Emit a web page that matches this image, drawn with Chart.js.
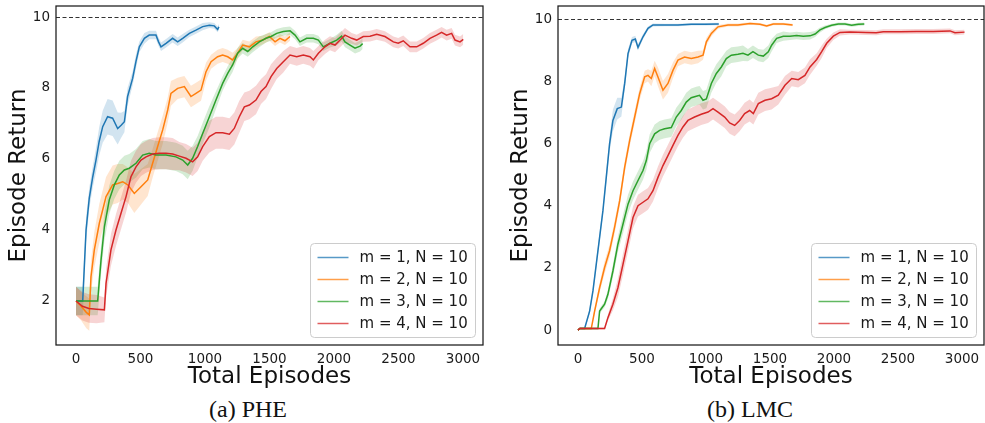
<!DOCTYPE html>
<html>
<head>
<meta charset="utf-8">
<script src="https://cdn.jsdelivr.net/npm/chart.js@4.4.1/dist/chart.umd.min.js"></script>
<style>
  html, body { margin: 0; padding: 0; background: #fff; }
  #wrap { position: relative; width: 985px; height: 423px; overflow: hidden; }
  .panel { position: absolute; top: 0; }
  .caption {
    position: absolute; top: 397px; width: 200px; text-align: center;
    font-family: 'Liberation Serif', 'DejaVu Serif', serif; font-size: 24px; line-height: 24px; color: #111;
  }
</style>
</head>
<body>
<div id="wrap">
  <div class="panel" style="left:0"><canvas id="pheChart" width="490" height="395"></canvas></div>
  <div class="panel" style="left:502px"><canvas id="lmcChart" width="483" height="395"></canvas></div>
  <div class="caption" style="left:148px">(a) PHE</div>
  <div class="caption" style="left:650px">(b) LMC</div>
</div>
<script>
const seriesLabels = ['m = 1, N = 10', 'm = 2, N = 10', 'm = 3, N = 10', 'm = 4, N = 10'];
const seriesColors = ['#1f77b4', '#ff7f0e', '#2ca02c', '#d62728'];
const episodeTicks = [0, 500, 1000, 1500, 2000, 2500, 3000];
const pheReturnTicks = [2, 4, 6, 8, 10];
const lmcReturnTicks = [0, 2, 4, 6, 8, 10];
const targetReturn = 10;

// rows: [total episodes, mean return, std of return]
const phe_m1 = [
  [0, 2.0, 0.4], [52, 2.0, 0.4], [78, 4.0, 0.35], [103, 4.9, 0.3], [130, 5.5, 0.3], [155, 5.97, 0.35],
  [180, 6.5, 0.4], [207, 6.91, 0.45], [245, 7.19, 0.5], [284, 7.15, 0.5], [323, 6.86, 0.45], [350, 6.95, 0.35],
  [375, 7.05, 0.3], [400, 7.76, 0.25], [439, 8.27, 0.2], [465, 8.75, 0.2], [491, 9.16, 0.15], [530, 9.40, 0.15],
  [568, 9.49, 0.12], [620, 9.49, 0.12], [640, 9.3, 0.12], [659, 9.16, 0.12], [698, 9.26, 0.12], [749, 9.40, 0.12],
  [788, 9.30, 0.12], [827, 9.40, 0.12], [879, 9.54, 0.1], [930, 9.63, 0.1], [982, 9.73, 0.1], [1034, 9.77, 0.08],
  [1072, 9.75, 0.08], [1098, 9.65, 0.08], [1108, 9.72, 0.08]
];
const phe_m2 = [
  [0, 2.0, 0.4], [40, 1.85, 0.4], [80, 1.68, 0.45], [103, 1.61, 0.45], [116, 2.68, 0.45], [142, 3.44, 0.5],
  [181, 4.19, 0.55], [233, 4.94, 0.55], [284, 5.27, 0.55], [323, 5.31, 0.55], [362, 5.36, 0.5], [401, 5.27, 0.5],
  [452, 5.03, 0.55], [504, 5.22, 0.5], [556, 5.41, 0.45], [594, 5.88, 0.4], [633, 6.35, 0.4], [672, 6.82, 0.4],
  [711, 7.38, 0.35], [736, 7.85, 0.35], [788, 7.99, 0.3], [840, 8.04, 0.3], [891, 7.76, 0.3], [930, 7.85, 0.3],
  [969, 7.94, 0.3], [1008, 8.46, 0.25], [1047, 8.74, 0.2], [1098, 8.88, 0.2], [1137, 8.93, 0.2], [1176, 8.88, 0.2],
  [1214, 8.79, 0.2], [1253, 8.98, 0.15], [1292, 9.21, 0.15], [1344, 9.16, 0.15], [1395, 9.30, 0.15], [1447, 9.35, 0.12],
  [1499, 9.45, 0.12], [1543, 9.30, 0.12], [1581, 9.40, 0.12], [1620, 9.33, 0.12], [1659, 9.45, 0.12]
];
const phe_m3 = [
  [0, 2.0, 0.4], [168, 2.0, 0.4], [194, 3.15, 0.4], [220, 4.09, 0.4], [258, 4.85, 0.4], [297, 5.27, 0.4],
  [336, 5.55, 0.4], [375, 5.69, 0.4], [413, 5.74, 0.4], [465, 5.88, 0.4], [517, 6.11, 0.4], [568, 6.16, 0.4],
  [620, 6.11, 0.4], [698, 6.11, 0.4], [775, 6.06, 0.4], [827, 5.97, 0.4], [866, 5.83, 0.4], [904, 6.02, 0.35],
  [943, 6.35, 0.3], [982, 6.72, 0.3], [1034, 7.19, 0.3], [1085, 7.66, 0.25], [1137, 8.13, 0.2], [1176, 8.41, 0.2],
  [1214, 8.65, 0.2], [1253, 8.98, 0.15], [1292, 9.12, 0.15], [1331, 9.03, 0.15], [1370, 9.16, 0.15], [1421, 9.30, 0.15],
  [1473, 9.40, 0.12], [1512, 9.45, 0.12], [1556, 9.54, 0.12], [1607, 9.59, 0.12], [1659, 9.61, 0.12], [1698, 9.49, 0.12],
  [1736, 9.30, 0.12], [1788, 9.40, 0.12], [1840, 9.40, 0.12], [1879, 9.35, 0.12], [1917, 9.16, 0.12], [1969, 9.26, 0.12],
  [2021, 9.35, 0.15], [2059, 9.46, 0.15], [2085, 9.30, 0.15], [2124, 9.21, 0.15], [2163, 9.12, 0.15], [2202, 9.18, 0.15],
  [2222, 9.25, 0.15]
];
const phe_m4 = [
  [0, 2.0, 0.4], [50, 1.85, 0.4], [100, 1.79, 0.4], [160, 1.77, 0.4], [220, 1.75, 0.35], [233, 2.5, 0.4],
  [271, 3.44, 0.45], [310, 4.0, 0.45], [349, 4.47, 0.45], [388, 4.94, 0.45], [426, 5.5, 0.45], [465, 5.78, 0.45],
  [504, 5.97, 0.45], [543, 6.06, 0.45], [594, 6.14, 0.45], [646, 6.16, 0.45], [698, 6.16, 0.45], [749, 6.14, 0.45],
  [801, 6.08, 0.4], [853, 6.02, 0.4], [904, 5.92, 0.4], [943, 6.06, 0.4], [982, 6.35, 0.4], [1034, 6.63, 0.45],
  [1085, 6.74, 0.45], [1137, 6.74, 0.45], [1189, 6.70, 0.45], [1227, 6.86, 0.45], [1266, 7.19, 0.45], [1305, 7.47, 0.4],
  [1344, 7.52, 0.4], [1395, 7.66, 0.4], [1434, 7.90, 0.35], [1473, 8.04, 0.35], [1512, 8.32, 0.35], [1556, 8.55, 0.3],
  [1607, 8.74, 0.3], [1659, 8.93, 0.25], [1711, 8.88, 0.25], [1762, 8.93, 0.25], [1814, 8.88, 0.25], [1840, 8.79, 0.25],
  [1879, 8.98, 0.2], [1930, 9.16, 0.2], [1969, 9.26, 0.2], [2008, 9.21, 0.2], [2047, 9.35, 0.2], [2085, 9.49, 0.2],
  [2137, 9.40, 0.15], [2176, 9.35, 0.15], [2227, 9.45, 0.15], [2279, 9.46, 0.15], [2331, 9.51, 0.15], [2395, 9.45, 0.15],
  [2460, 9.30, 0.15], [2498, 9.26, 0.15], [2537, 9.33, 0.15], [2589, 9.16, 0.15], [2641, 9.16, 0.15], [2692, 9.26, 0.15],
  [2744, 9.40, 0.15], [2795, 9.49, 0.15], [2834, 9.57, 0.15], [2873, 9.49, 0.15], [2912, 9.54, 0.15], [2938, 9.35, 0.15],
  [2977, 9.30, 0.15], [3002, 9.37, 0.15]
];

const lmc_m1 = [
  [0, 0.0, 0.03], [15, 0.05, 0.03], [52, 0.05, 0.03], [91, 0.61, 0.1], [117, 1.26, 0.12], [143, 2.12, 0.15],
  [169, 2.98, 0.15], [195, 3.84, 0.15], [221, 4.91, 0.2], [247, 5.99, 0.25], [273, 6.74, 0.35], [307, 7.12, 0.35],
  [339, 7.17, 0.3], [365, 7.93, 0.2], [391, 8.89, 0.15], [422, 9.32, 0.1], [448, 9.36, 0.1], [469, 9.09, 0.1],
  [508, 9.43, 0.08], [547, 9.70, 0.06], [586, 9.81, 0.05], [677, 9.81, 0.04], [781, 9.81, 0.04], [885, 9.83, 0.04],
  [990, 9.83, 0.04], [1100, 9.84, 0.04]
];
const lmc_m2 = [
  [0, 0.0, 0.03], [15, 0.05, 0.03], [104, 0.05, 0.03], [130, 0.61, 0.1], [169, 1.36, 0.15], [208, 2.01, 0.2],
  [247, 2.55, 0.2], [286, 3.30, 0.2], [326, 4.16, 0.2], [365, 5.24, 0.2], [404, 6.10, 0.2], [443, 6.85, 0.2],
  [482, 7.60, 0.2], [521, 8.14, 0.2], [547, 8.19, 0.2], [573, 8.09, 0.25], [599, 8.41, 0.25], [625, 8.14, 0.3],
  [664, 7.71, 0.3], [703, 7.93, 0.3], [742, 8.35, 0.25], [781, 8.68, 0.2], [833, 8.78, 0.2], [885, 8.73, 0.2],
  [938, 8.78, 0.2], [977, 8.84, 0.15], [1003, 9.27, 0.12], [1042, 9.54, 0.1], [1094, 9.75, 0.06], [1172, 9.81, 0.05],
  [1250, 9.81, 0.05], [1344, 9.86, 0.04], [1422, 9.83, 0.04], [1474, 9.78, 0.04], [1526, 9.84, 0.04], [1604, 9.84, 0.04],
  [1677, 9.81, 0.04]
];
const lmc_m3 = [
  [0, 0.0, 0.03], [15, 0.05, 0.03], [156, 0.05, 0.03], [169, 0.61, 0.08], [208, 0.83, 0.1], [234, 1.15, 0.15],
  [273, 1.90, 0.2], [312, 2.76, 0.25], [352, 3.41, 0.3], [391, 4.05, 0.3], [430, 4.48, 0.3], [469, 4.81, 0.3],
  [508, 5.13, 0.3], [534, 5.45, 0.3], [560, 5.99, 0.3], [599, 6.31, 0.3], [638, 6.42, 0.3], [677, 6.47, 0.3],
  [729, 6.51, 0.3], [768, 6.85, 0.3], [807, 7.06, 0.3], [846, 7.33, 0.3], [885, 7.47, 0.3], [924, 7.52, 0.3],
  [950, 7.55, 0.3], [977, 7.39, 0.3], [1003, 7.43, 0.3], [1042, 7.93, 0.3], [1081, 8.25, 0.3], [1120, 8.46, 0.3],
  [1159, 8.73, 0.25], [1198, 8.84, 0.25], [1250, 8.87, 0.25], [1289, 8.90, 0.25], [1328, 8.84, 0.2], [1367, 8.95, 0.2],
  [1409, 8.84, 0.2], [1448, 8.81, 0.2], [1487, 8.95, 0.2], [1513, 9.16, 0.2], [1552, 9.38, 0.15], [1604, 9.45, 0.15],
  [1656, 9.45, 0.12], [1708, 9.47, 0.12], [1760, 9.45, 0.12], [1813, 9.46, 0.12], [1852, 9.52, 0.1], [1891, 9.65, 0.08],
  [1930, 9.73, 0.06], [1982, 9.80, 0.05], [2034, 9.84, 0.05], [2086, 9.84, 0.05], [2138, 9.80, 0.05], [2190, 9.83, 0.05],
  [2237, 9.84, 0.05]
];
const lmc_m4 = [
  [0, 0.0, 0.03], [15, 0.05, 0.03], [208, 0.05, 0.03], [234, 0.40, 0.1], [273, 0.83, 0.2], [312, 1.36, 0.3],
  [352, 2.12, 0.35], [391, 2.87, 0.35], [430, 3.62, 0.35], [469, 4.0, 0.35], [508, 4.11, 0.35], [547, 4.22, 0.35],
  [586, 4.48, 0.35], [625, 4.91, 0.35], [664, 5.29, 0.35], [703, 5.61, 0.35], [742, 5.94, 0.35], [781, 6.26, 0.35],
  [820, 6.53, 0.35], [859, 6.74, 0.35], [911, 6.85, 0.35], [963, 6.94, 0.35], [1016, 7.01, 0.35], [1055, 7.12, 0.35],
  [1094, 7.01, 0.35], [1146, 6.85, 0.35], [1185, 6.66, 0.35], [1224, 6.58, 0.35], [1263, 6.74, 0.35], [1302, 6.96, 0.35],
  [1341, 7.06, 0.35], [1370, 6.96, 0.35], [1409, 7.28, 0.35], [1461, 7.39, 0.35], [1513, 7.44, 0.35], [1565, 7.55, 0.3],
  [1617, 7.87, 0.3], [1670, 8.09, 0.25], [1721, 8.05, 0.25], [1773, 8.19, 0.25], [1813, 8.46, 0.25], [1865, 8.70, 0.2],
  [1904, 8.95, 0.2], [1943, 9.22, 0.15], [1995, 9.45, 0.12], [2047, 9.57, 0.1], [2125, 9.58, 0.08], [2250, 9.57, 0.08],
  [2330, 9.56, 0.08], [2385, 9.59, 0.08], [2516, 9.59, 0.08], [2646, 9.60, 0.08], [2776, 9.60, 0.08], [2906, 9.62, 0.08],
  [2945, 9.56, 0.08], [3020, 9.58, 0.08]
];

const FONT = "'DejaVu Sans', 'Liberation Sans', sans-serif";

function hexToRgba(hex, a) {
    const n = parseInt(hex.slice(1), 16);
    return `rgba(${(n >> 16) & 255}, ${(n >> 8) & 255}, ${n & 255}, ${a})`;
}

function buildDatasets(runs) {
    const bands = [];
    const lines = [];
    runs.forEach((run, i) => {
        const color = seriesColors[i];
        // upper edge, then lower edge filled back to it
        bands.push({
            data: run.map(r => ({ x: r[0], y: r[1] + r[2] })),
            borderColor: 'transparent', borderWidth: 0, pointRadius: 0, fill: false, order: 24 - i
        });
        bands.push({
            data: run.map(r => ({ x: r[0], y: r[1] - r[2] })),
            borderColor: 'transparent', borderWidth: 0, pointRadius: 0,
            fill: '-1', backgroundColor: hexToRgba(color, 0.2), order: 24 - i
        });
        lines.push({
            label: seriesLabels[i],
            data: run.map(r => ({ x: r[0], y: r[1] })),
            borderColor: color, borderWidth: 1.5, pointRadius: 0, fill: false,
            order: 4 - i, isMain: true
        });
    });
    return bands.concat(lines);
}

// dashed target line and the four spines
const framePlugin = {
    id: 'frame',
    beforeDatasetsDraw(chart) {
        const { ctx, chartArea, scales } = chart;
        const y = scales.y.getPixelForValue(targetReturn);
        ctx.save();
        ctx.strokeStyle = 'rgba(0,0,0,0.8)';
        ctx.lineWidth = 1;
        ctx.setLineDash([4, 2.5]);
        ctx.beginPath();
        ctx.moveTo(chartArea.left, Math.round(y) + 0.5);
        ctx.lineTo(chartArea.right, Math.round(y) + 0.5);
        ctx.stroke();
        ctx.restore();
    },
    afterDatasetsDraw(chart) {
        const { ctx, chartArea } = chart;
        ctx.save();
        ctx.strokeStyle = '#1a1a1a';
        ctx.lineWidth = 1.25;
        ctx.strokeRect(chartArea.left, chartArea.top, chartArea.right - chartArea.left, chartArea.bottom - chartArea.top);
        ctx.restore();
    }
};

const legendPlugin = {
    id: 'cornerLegend',
    afterDraw(chart) {
        const { ctx, chartArea } = chart;
        const w = 165, h = 94;
        const x = Math.round(chartArea.right - 8.5 - w) + 0.5;
        const y = Math.round(chartArea.bottom - 8 - h) + 0.5;
        ctx.save();
        ctx.beginPath();
        ctx.roundRect(x, y, w, h, 4);
        ctx.fillStyle = 'rgba(255,255,255,0.8)';
        ctx.fill();
        ctx.strokeStyle = '#cccccc';
        ctx.lineWidth = 1;
        ctx.stroke();
        ctx.font = `15px ${FONT}`;
        ctx.textBaseline = 'middle';
        chart.data.datasets.filter(ds => ds.isMain).forEach((ds, i) => {
            const cy = y + 14 + i * 22;
            ctx.strokeStyle = hexToRgba(ds.borderColor, 0.75);
            ctx.lineWidth = 1.5;
            ctx.beginPath();
            ctx.moveTo(x + 7, cy);
            ctx.lineTo(x + 38, cy);
            ctx.stroke();
            ctx.fillStyle = '#1a1a1a';
            ctx.fillText(ds.label, x + 49, cy + 1);
        });
        ctx.restore();
    }
};

function makeChart(canvasId, runs, yTicks, yMin, yMax, xMin, xMax, padRight) {
    const ctx = document.getElementById(canvasId).getContext('2d');
    return new Chart(ctx, {
        type: 'line',
        data: { datasets: buildDatasets(runs) },
        plugins: [framePlugin, legendPlugin],
        options: {
            responsive: false,
            animation: false,
            events: [],
            layout: { padding: { left: 0, top: 6, right: padRight, bottom: 0 } },
            elements: { line: { tension: 0 } },
            plugins: {
                legend: { display: false },
                tooltip: { enabled: false },
                filler: { propagate: false }
            },
            scales: {
                x: {
                    type: 'linear',
                    min: xMin,
                    max: xMax,
                    afterBuildTicks: s => { s.ticks = episodeTicks.map(v => ({ value: v })); },
                    afterFit: s => { s.height = 50; s.paddingLeft = 0; s.paddingRight = 0; },
                    grid: { display: false, drawTicks: false },
                    border: { display: false },
                    ticks: {
                        font: { family: FONT, size: 13.5 }, color: '#1a1a1a', padding: 6,
                        maxRotation: 0, autoSkip: false, callback: v => String(v)
                    },
                    title: {
                        display: true, text: 'Total Episodes', color: '#111',
                        font: { family: FONT, size: 23 }, padding: { top: 0, bottom: 4 }
                    }
                },
                y: {
                    type: 'linear',
                    min: yMin,
                    max: yMax,
                    afterBuildTicks: s => { s.ticks = yTicks.map(v => ({ value: v })); },
                    afterFit: s => { s.width = 56; s.paddingTop = 0; s.paddingBottom = 0; },
                    grid: { display: false, drawTicks: false },
                    border: { display: false },
                    ticks: {
                        font: { family: FONT, size: 13.5 }, color: '#1a1a1a', padding: 6,
                        autoSkip: false, callback: v => String(v)
                    },
                    title: {
                        display: true, text: 'Episode Return', color: '#111',
                        font: { family: FONT, size: 23 }, padding: { top: 5, bottom: 0 }
                    }
                }
            }
        }
    });
}

makeChart('pheChart', [phe_m1, phe_m2, phe_m3, phe_m4], pheReturnTicks, 0.76, 10.31, -155, 3155, 7);
makeChart('lmcChart', [lmc_m1, lmc_m2, lmc_m3, lmc_m4], lmcReturnTicks, -0.48, 10.42, -156, 3172, 1);
</script>
</body>
</html>
